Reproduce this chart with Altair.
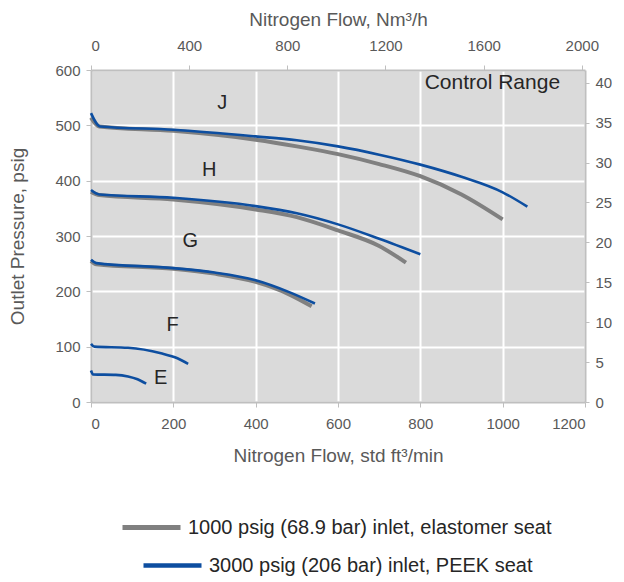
import altair as alt
import pandas as pd

# ---- data ----
SER_GRAY = "1000 psig (68.9 bar) inlet, elastomer seat"
SER_BLUE = "3000 psig (206 bar) inlet, PEEK seat"

J_gray_x = [0, 20, 200, 400, 500, 600, 700, 800, 900, 1000]
J_gray_y = [514, 498, 490, 474, 462, 448, 430, 408, 375, 330]
J_blue_x = [0, 22, 200, 400, 500, 600, 700, 800, 900, 1000, 1060]
J_blue_y = [522, 498, 492, 480, 473, 462, 447, 429, 407, 379, 353]

H_gray_x = [0, 20, 200, 400, 500, 600, 700, 765]
H_gray_y = [380, 374, 366, 348, 334, 310, 282, 252]
H_blue_x = [0, 20, 200, 400, 500, 600, 700, 800]
H_blue_y = [383, 375, 369, 354, 341, 321, 295, 267]

G_gray_x = [0, 13, 200, 300, 400, 480, 536]
G_gray_y = [255, 249, 241, 232, 217, 195, 173]
G_blue_x = [0, 13, 200, 300, 400, 480, 544]
G_blue_y = [257, 251, 242, 234, 220, 199, 178]

F_blue_x = [0, 8, 90, 170, 210, 236]
F_blue_y = [105, 100, 98, 88, 79, 69]

E_blue_x = [0, 5, 60, 90, 113, 134]
E_blue_y = [57, 50, 49, 46, 41, 33]

label_text = ["J", "H", "G", "F", "E", "Control Range"]
label_x = [319, 287, 241, 198, 169, 975]
label_y = [541, 419, 291, 140, 43, 577]

top_axis_domain = [0, 2013]   # Nm3/h
right_axis_domain = [0, 41.6]  # bar

# ---- build table ----
rows = []
def add(curve, series, xs, ys):
    for i, (x, y) in enumerate(zip(xs, ys)):
        rows.append({"curve": curve + series[:4], "series": series, "flow": x, "psig": y, "order": i})

add("J", SER_GRAY, J_gray_x, J_gray_y)
add("H", SER_GRAY, H_gray_x, H_gray_y)
add("G", SER_GRAY, G_gray_x, G_gray_y)
add("J", SER_BLUE, J_blue_x, J_blue_y)
add("H", SER_BLUE, H_blue_x, H_blue_y)
add("G", SER_BLUE, G_blue_x, G_blue_y)
add("F", SER_BLUE, F_blue_x, F_blue_y)
add("E", SER_BLUE, E_blue_x, E_blue_y)
df = pd.DataFrame(rows)

labels = pd.DataFrame({"t": label_text, "flow": label_x, "psig": label_y})
sec = pd.DataFrame({"nm3": top_axis_domain, "bar": right_axis_domain})

FONT = "Liberation Sans"
GRAY = "#808080"
BLUE = "#0d4ea0"
LBL = "#595959"
LINE_SYM = "M-2.9,0H2.9"

xscale = alt.Scale(domain=[0, 1200], nice=False, zero=True)
yscale = alt.Scale(domain=[0, 600], nice=False, zero=True)

xenc = alt.X("flow:Q", scale=xscale,
             axis=alt.Axis(title="Nitrogen Flow, std ft³/min", values=[0, 200, 400, 600, 800, 1000, 1200],
                           format="d", grid=True, gridColor="white", gridWidth=2,
                           domainColor="#bfbfbf", domainWidth=2, tickColor="#bfbfbf", tickSize=5,
                           labelPadding=9, titlePadding=15))
yenc = alt.Y("psig:Q", scale=yscale,
             axis=alt.Axis(title="Outlet Pressure, psig", values=[0, 100, 200, 300, 400, 500, 600],
                           format="d", grid=True, gridColor="white", gridWidth=2,
                           domainColor="#bfbfbf", domainWidth=2, tickColor="#bfbfbf", tickSize=5,
                           labelPadding=6, titlePadding=27))

legend_common = dict(title=None, orient="none", direction="vertical", symbolType=LINE_SYM,
                     symbolSize=400, labelFontSize=20, labelColor="#262626", labelFont=FONT,
                     labelOffset=24, labelLimit=600, padding=0)

gray_lines = alt.Chart(df).transform_filter(alt.datum.series == SER_GRAY).mark_line(
    strokeWidth=4, strokeJoin="round", interpolate="monotone").encode(
    x=xenc, y=yenc, detail="curve:N", order="order:Q",
    color=alt.Color("series:N", scale=alt.Scale(domain=[SER_GRAY], range=[GRAY]),
                    legend=alt.Legend(legendX=48, legendY=445, symbolStrokeWidth=5,
                                      symbolStrokeColor="#7f7f7f", **legend_common)),
)
blue_lines = alt.Chart(df).transform_filter(alt.datum.series == SER_BLUE).mark_line(
    strokeWidth=2.6, strokeJoin="round", interpolate="monotone").encode(
    x=xenc, y=yenc, detail="curve:N", order="order:Q",
    stroke=alt.Stroke("series:N", scale=alt.Scale(domain=[SER_BLUE], range=[BLUE]),
                      legend=alt.Legend(legendX=69, legendY=483, symbolStrokeWidth=4.5,
                                        symbolStrokeColor="#4472c4", **legend_common)),
)

text = alt.Chart(labels).mark_text(font=FONT, fontSize=20, color="#262626").encode(
    x=alt.X("flow:Q", scale=xscale),
    y=alt.Y("psig:Q", scale=yscale),
    text="t:N",
    size=alt.condition(alt.datum.t == "Control Range", alt.value(21), alt.value(20)),
)

inner = alt.layer(gray_lines, blue_lines, text)

hidden = alt.Chart(sec).mark_point(opacity=0).encode(
    x=alt.X("nm3:Q", scale=alt.Scale(domain=top_axis_domain, nice=False),
            axis=alt.Axis(orient="top", title="Nitrogen Flow, Nm³/h", values=[0, 400, 800, 1200, 1600, 2000],
                          format="d", grid=False, domainColor="#bfbfbf", domainWidth=2, tickColor="#bfbfbf",
                          tickSize=5, labelPadding=12, titlePadding=9)),
    y=alt.Y("bar:Q", scale=alt.Scale(domain=right_axis_domain, nice=False),
            axis=alt.Axis(orient="right", title=None, values=[0, 5, 10, 15, 20, 25, 30, 35, 40],
                          format="d", grid=False, domainColor="#bfbfbf", domainWidth=2, tickColor="#bfbfbf",
                          tickSize=4, labelPadding=6)),
)

chart = alt.layer(inner, hidden).resolve_scale(
    x="independent", y="independent", color="independent", stroke="independent"
).properties(
    width=494, height=332, padding={"left": 0, "top": 2, "right": 0, "bottom": 0}
).configure_view(fill="#dadada", stroke=None).configure_axis(
    labelFont=FONT, titleFont=FONT, labelFontSize=15, titleFontSize=19,
    labelColor=LBL, titleColor=LBL, titleFontWeight="normal"
)

chart.save("out.html", embed_options={"renderer": "svg", "actions": False})
